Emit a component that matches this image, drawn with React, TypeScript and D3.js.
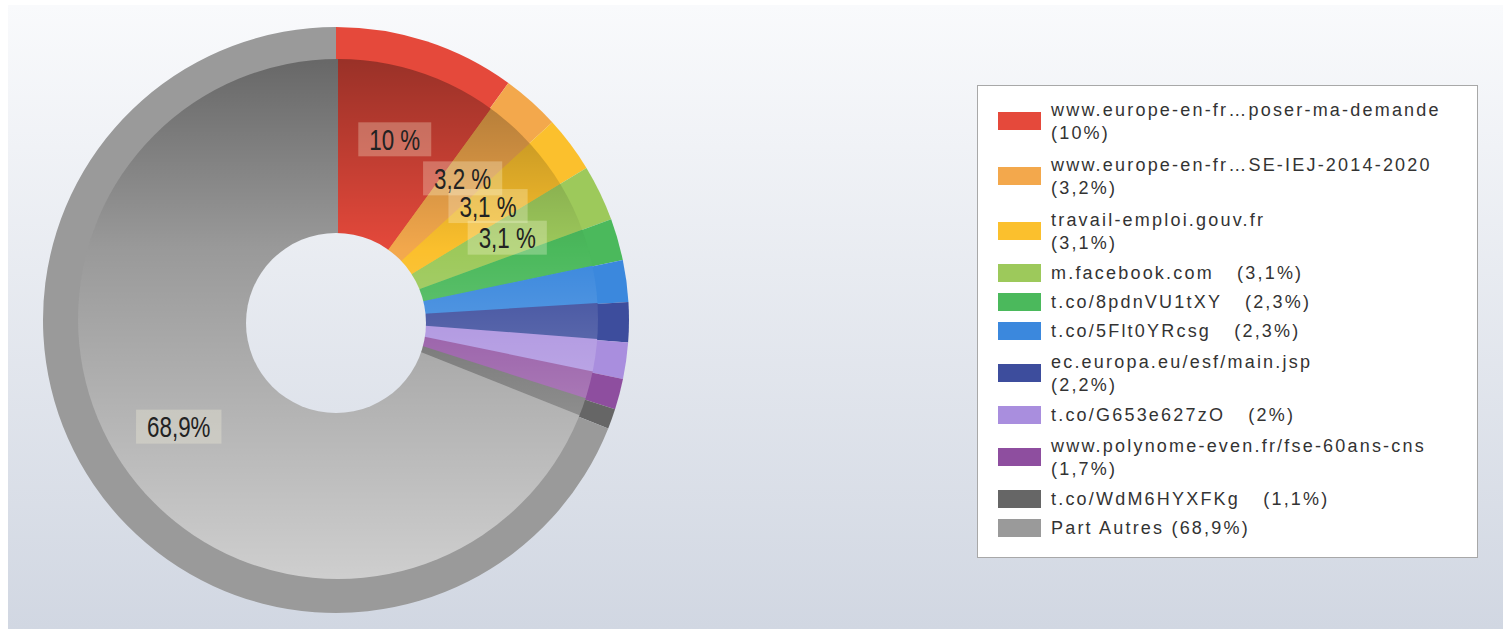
import { useEffect, useRef } from "react";
import * as d3 from "d3";

// referrer sources and their share of visits (%)
const sources = [
  "www.europe-en-fr\u2026poser-ma-demande",
  "www.europe-en-fr\u2026SE-IEJ-2014-2020",
  "travail-emploi.gouv.fr",
  "m.facebook.com",
  "t.co/8pdnVU1tXY",
  "t.co/5Flt0YRcsg",
  "ec.europa.eu/esf/main.jsp",
  "t.co/G653e627zO",
  "www.polynome-even.fr/fse-60ans-cns",
  "t.co/WdM6HYXFKg",
  "Part Autres",
];
const shares = [10, 3.2, 3.1, 3.1, 2.3, 2.3, 2.2, 2, 1.7, 1.1, 68.9];
const colors = [
  "#e5493b",
  "#f3a84c",
  "#fbc02d",
  "#9dc95b",
  "#4bb95c",
  "#3b88dd",
  "#3d4d9d",
  "#a98ede",
  "#8e4e9f",
  "#666666",
  "#9a9a9a",
];
const OTHERS = "Part Autres";

const W = 1503;
const H = 629;

const fmt = (v: number) => String(v).replace(".", ",");

const App = () => {
  const ref = useRef<SVGSVGElement>(null);

  useEffect(() => {
    if (!ref.current) return;
    const svg = d3.select(ref.current);
    svg.selectAll("*").remove();

    const defs = svg.append("defs");
    const bg = defs
      .append("linearGradient")
      .attr("id", "bg")
      .attr("gradientUnits", "userSpaceOnUse")
      .attr("x1", 0)
      .attr("y1", 5)
      .attr("x2", 0)
      .attr("y2", H);
    bg.append("stop").attr("offset", 0).attr("stop-color", "#f9fafc");
    bg.append("stop").attr("offset", 1).attr("stop-color", "#d1d7e2");

    const shade = defs
      .append("linearGradient")
      .attr("id", "shade")
      .attr("x1", 0)
      .attr("y1", 0)
      .attr("x2", 0)
      .attr("y2", 1);
    shade.append("stop").attr("offset", 0).attr("stop-color", "#000").attr("stop-opacity", 0.33);
    shade.append("stop").attr("offset", 0.37).attr("stop-color", "#000").attr("stop-opacity", 0);
    shade.append("stop").attr("offset", 0.37).attr("stop-color", "#fff").attr("stop-opacity", 0);
    shade.append("stop").attr("offset", 1).attr("stop-color", "#fff").attr("stop-opacity", 0.52);

    svg.append("rect").attr("width", W).attr("height", H).attr("fill", "#fff");
    svg
      .append("rect")
      .attr("x", 8)
      .attr("y", 5)
      .attr("width", W - 8)
      .attr("height", H - 5)
      .attr("fill", "url(#bg)");

    // pie geometry
    const cx = 336;
    const cy = 320;
    const R = 293;
    const faceCx = 338;
    const faceCy = 319;
    const faceR = 260;
    const holeR = 90;
    const labelR = 190;

    const pie = d3
      .pie<number>()
      .sort(null)
      .value((d) => d);
    const arcs = pie(shares);

    const rim = d3.arc<d3.PieArcDatum<number>>().innerRadius(0).outerRadius(R);
    const face = d3.arc<d3.PieArcDatum<number>>().innerRadius(0).outerRadius(faceR);

    svg
      .append("g")
      .attr("transform", `translate(${cx},${cy})`)
      .selectAll("path")
      .data(arcs)
      .join("path")
      .attr("d", rim)
      .attr("fill", (_d, i) => colors[i]);

    const gFace = svg.append("g").attr("transform", `translate(${faceCx},${faceCy})`);
    gFace
      .selectAll("path")
      .data(arcs)
      .join("path")
      .attr("d", face)
      .attr("fill", (_d, i) => colors[i]);
    gFace.append("circle").attr("r", faceR).attr("fill", "url(#shade)");

    svg
      .append("circle")
      .attr("cx", cx)
      .attr("cy", cy + 3)
      .attr("r", holeR)
      .attr("fill", "url(#bg)");

    // slice labels (only the bigger slices)
    const gLabels = svg.append("g");
    arcs.forEach((a, i) => {
      if (a.value < 3) return;
      const mid = (a.startAngle + a.endAngle) / 2;
      const x = cx + labelR * Math.sin(mid);
      const y = cy - labelR * Math.cos(mid);
      const txt = sources[i] === OTHERS ? `${fmt(a.value)}%` : `${fmt(a.value)} %`;
      const g = gLabels.append("g").attr("transform", `translate(${x},${y})`);
      const rect = g.append("rect");
      const t = g
        .append("text")
        .attr("text-anchor", "middle")
        .attr("dy", "0.36em")
        .attr("transform", "scale(0.86,1.12)")
        .attr("font-family", "'Liberation Sans', Arial, sans-serif")
        .attr("font-size", 26)
        .attr("fill", "#222")
        .text(txt);
      const w = (t.node() as SVGTextElement).getBBox().width * 0.86;
      const padX = 11;
      rect
        .attr("x", -w / 2 - padX)
        .attr("y", -17)
        .attr("width", w + padX * 2)
        .attr("height", 34)
        .attr("fill", "rgb(255,250,225)")
        .attr("fill-opacity", 0.28);
    });

    // legend
    const legend = svg.append("g");
    legend
      .append("rect")
      .attr("x", 977.5)
      .attr("y", 85.5)
      .attr("width", 500)
      .attr("height", 472)
      .attr("fill", "#fff")
      .attr("stroke", "#a8a8a8");

    const lineH = 23;
    const itemH = (lines: number) => (lines === 1 ? 29 : 55);
    const lineCount = (name: string) => (name.length > 20 ? 2 : 1);

    let yc = 121;
    sources.forEach((name, i) => {
      const lines = lineCount(name);
      if (i > 0) yc += (itemH(lineCount(sources[i - 1])) + itemH(lines)) / 2;
      const item = legend.append("g");
      item
        .append("rect")
        .attr("x", 998)
        .attr("y", yc - 9)
        .attr("width", 43)
        .attr("height", 18)
        .attr("fill", colors[i]);
      const text = item
        .append("text")
        .attr("font-family", "'Liberation Sans', Arial, sans-serif")
        .attr("font-size", 18)
        .attr("letter-spacing", "2.2px")
        .attr("fill", "#333");
      const pct = `(${fmt(shares[i])}%)`;
      if (lines === 2) {
        text.append("tspan").attr("x", 1051).attr("y", yc - lineH / 2 + 6).text(name);
        text.append("tspan").attr("x", 1051).attr("y", yc + lineH / 2 + 6).text(pct);
      } else {
        text.append("tspan").attr("x", 1051).attr("y", yc + 6).text(name);
        text
          .append("tspan")
          .attr("dx", name === OTHERS ? 0 : 16)
          .text(" " + pct);
      }
    });
  }, []);

  return (
    <svg
      ref={ref}
      width={W}
      height={H}
      style={{ position: "absolute", left: 0, top: 0, display: "block" }}
    />
  );
};

export default App;
